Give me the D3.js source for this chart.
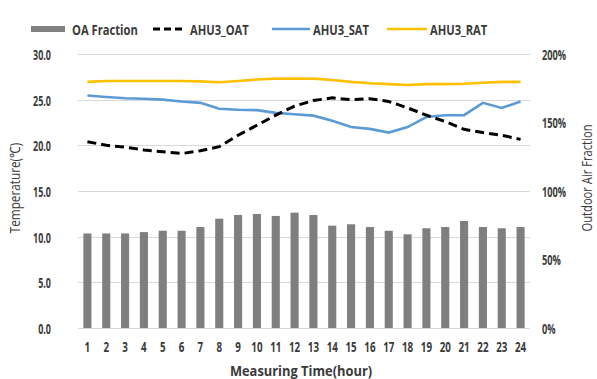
<!DOCTYPE html>
<html>
<head>
<meta charset="utf-8">
<script src="https://cdn.jsdelivr.net/npm/d3@7"></script>
<style>
  html, body { margin: 0; padding: 0; background: #fff; }
  svg { display: block; }
  text { font-family: "Open Sans", "Liberation Sans", sans-serif; fill: #3a3a3a; }
</style>
</head>
<body>
<svg id="chart" width="597" height="379"></svg>
<script>
// Hourly measurements for air handling unit 3
const hours = d3.range(1, 25).map(String);
const oaFraction = [0.69, 0.69, 0.69, 0.70, 0.71, 0.71, 0.737, 0.798, 0.825, 0.832, 0.818, 0.842,
                    0.825, 0.747, 0.757, 0.737, 0.71, 0.684, 0.728, 0.737, 0.781, 0.737, 0.728, 0.737];
const oat = [20.4, 20.0, 19.8, 19.5, 19.3, 19.1, 19.4, 19.85, 21.1, 22.2, 23.3, 24.3,
             24.9, 25.2, 25.0, 25.1, 24.8, 24.1, 23.3, 22.6, 21.75, 21.4, 21.1, 20.65];
const sat = [25.45, 25.3, 25.15, 25.1, 25.0, 24.8, 24.65, 24.0, 23.9, 23.85, 23.55, 23.4,
             23.25, 22.7, 22.0, 21.8, 21.4, 22.0, 23.1, 23.3, 23.3, 24.65, 24.1, 24.8];
const rat = [26.95, 27.05, 27.05, 27.05, 27.05, 27.05, 27.0, 26.9, 27.05, 27.2, 27.3, 27.3,
             27.3, 27.15, 26.95, 26.8, 26.7, 26.6, 26.7, 26.7, 26.75, 26.85, 26.95, 26.95];
const tempTicks = [0, 5, 10, 15, 20, 25, 30];
const fracTicks = [0, 0.5, 1, 1.5, 2];

const svg = d3.select("#chart");
const plotL = 78, plotR = 530, plotT = 54, plotB = 328;

const x = d3.scaleBand().domain(hours).range([plotL, plotR]).paddingInner(0.57).paddingOuter(0.285);
const yT = d3.scaleLinear().domain([0, 30]).range([plotB, plotT]);
const yF = d3.scaleLinear().domain([0, 2]).range([plotB, plotT]);

// text helper: narrow lettering via horizontal scale
function label(g, tx, ty, str, opts = {}) {
  return g.append("text")
    .attr("transform", `translate(${tx},${ty})${opts.rotate ? " rotate(" + opts.rotate + ")" : ""} scale(${opts.scale || 0.7},1)`)
    .attr("text-anchor", opts.anchor || "start")
    .attr("dominant-baseline", "central")
    .attr("font-size", opts.size || 14)
    .attr("font-weight", opts.weight || 700)
    .text(str);
}

// gridlines
svg.append("g").selectAll("line").data(tempTicks).join("line")
  .attr("x1", plotL).attr("x2", plotR)
  .attr("y1", d => Math.round(yT(d)) + 0.5).attr("y2", d => Math.round(yT(d)) + 0.5)
  .attr("stroke", "#d9d9d9").attr("stroke-width", 1);

// outdoor air fraction bars
svg.append("g").selectAll("rect").data(oaFraction).join("rect")
  .attr("x", (d, i) => x(hours[i]))
  .attr("width", x.bandwidth())
  .attr("y", d => yF(d))
  .attr("height", d => yF(0) - yF(d))
  .attr("fill", "#7f7f7f");

// temperature lines
const line = d3.line().x((d, i) => x(hours[i]) + x.bandwidth() / 2).y(d => yT(d));
svg.append("path").datum(rat).attr("d", line)
  .attr("fill", "none").attr("stroke", "#ffc000").attr("stroke-width", 2.6);
svg.append("path").datum(sat).attr("d", line)
  .attr("fill", "none").attr("stroke", "#5b9bd5").attr("stroke-width", 2.6);
svg.append("path").datum(oat).attr("d", line)
  .attr("fill", "none").attr("stroke", "#000").attr("stroke-width", 3)
  .attr("stroke-dasharray", "9,5");

// axis labels
const ax = svg.append("g");
tempTicks.forEach(t => label(ax, 51, yT(t), d3.format(".1f")(t), { anchor: "end", scale: 0.64 }));
fracTicks.forEach(t => label(ax, 542, yF(t), d3.format(".0%")(t), { scale: 0.66 }));
hours.forEach(h => label(ax, x(h) + x.bandwidth() / 2, 347, h, { anchor: "middle", scale: 0.7 }));
label(ax, 301, 371, "Measuring Time(hour)", { anchor: "middle", scale: 0.92 });
label(ax, 15, 188, "Temperature(℃)", { anchor: "middle", rotate: -90, weight: 400, size: 14, scale: 0.84 });
label(ax, 586, 178, "Outdoor Air Fraction", { anchor: "middle", rotate: -90, weight: 400, size: 14, scale: 0.8 });

// legend
const lg = svg.append("g");
const ly = 29;
lg.append("rect").attr("x", 31).attr("y", ly - 3).attr("width", 34).attr("height", 6).attr("fill", "#7f7f7f");
label(lg, 72, ly, "OA Fraction", { scale: 0.8 });
lg.append("line").attr("x1", 153).attr("x2", 184).attr("y1", ly).attr("y2", ly)
  .attr("stroke", "#000").attr("stroke-width", 3).attr("stroke-dasharray", "7,4");
label(lg, 190, ly, "AHU3_OAT", { scale: 0.8 });
lg.append("line").attr("x1", 272).attr("x2", 310).attr("y1", ly).attr("y2", ly)
  .attr("stroke", "#5b9bd5").attr("stroke-width", 2.6);
label(lg, 313, ly, "AHU3_SAT", { scale: 0.8 });
lg.append("line").attr("x1", 387).attr("x2", 427).attr("y1", ly).attr("y2", ly)
  .attr("stroke", "#ffc000").attr("stroke-width", 2.6);
label(lg, 430, ly, "AHU3_RAT", { scale: 0.8 });
</script>
</body>
</html>
